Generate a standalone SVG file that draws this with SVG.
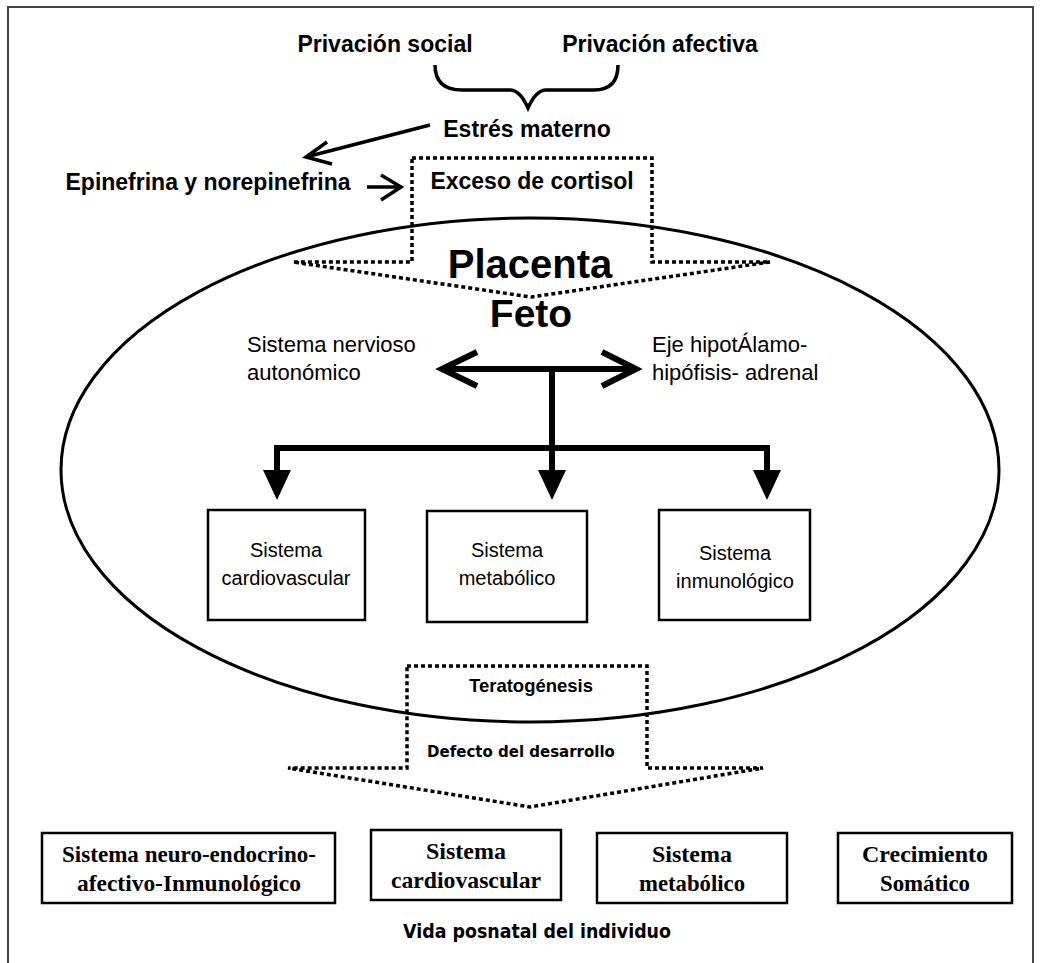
<svg xmlns="http://www.w3.org/2000/svg" width="1040" height="963" viewBox="0 0 1040 963">
<style>
.b{font-family:"Liberation Sans",Arial,sans-serif;font-weight:bold;fill:#000}
.r{font-family:"Liberation Sans",Arial,sans-serif;fill:#000}
.g{font-family:"DejaVu Sans","Liberation Sans",sans-serif;fill:#000}
.t{font-family:"Liberation Serif","Times New Roman",serif;font-weight:bold;fill:#000}
.box{fill:#fff;stroke:#000;stroke-width:2.5}
.dot{fill:none;stroke:#000;stroke-width:3.5;stroke-dasharray:4 3}
.thick{fill:none;stroke:#000;stroke-width:6;stroke-linejoin:miter}
.thin{fill:none;stroke:#000;stroke-width:3.5}
.tri{fill:#000}
</style>
<rect x="0" y="0" width="1040" height="963" fill="#fff"/>
<rect x="8" y="7" width="1025" height="1000" fill="none" stroke="#444" stroke-width="2"/>

<g id="ellipse-feto">
<ellipse cx="530" cy="470" rx="469" ry="252" fill="none" stroke="#000" stroke-width="3"/>
</g>

<g id="privacion-social"><text class="b" x="385" y="52" font-size="23" text-anchor="middle">Privación social</text></g>
<g id="privacion-afectiva"><text class="b" x="660" y="52" font-size="23" text-anchor="middle">Privación afectiva</text></g>
<g id="estres-materno"><text class="b" x="527" y="137" font-size="23" text-anchor="middle">Estrés materno</text></g>
<g id="epinefrina"><text class="b" x="208" y="190" font-size="23" text-anchor="middle">Epinefrina y norepinefrina</text></g>

<g id="exceso-cortisol">
<path class="dot" d="M412,158 L652,158 L652,262 L770,262 L531,297 L293,262 L412,262 Z"/>
<text class="b" x="532" y="189" font-size="23" text-anchor="middle">Exceso de cortisol</text>
</g>

<g id="placenta"><text class="b" x="530" y="278" font-size="40" text-anchor="middle">Placenta</text></g>
<g id="feto"><text class="b" x="531" y="327" font-size="39" text-anchor="middle">Feto</text></g>

<g id="sistema-nervioso">
<text class="r" x="247" y="352" font-size="22">Sistema nervioso</text>
<text class="r" x="247" y="380" font-size="22">autonómico</text>
</g>
<g id="eje-hpa">
<text class="r" x="652" y="352" font-size="22">Eje hipotÁlamo-</text>
<text class="r" x="652" y="380" font-size="22">hipófisis- adrenal</text>
</g>

<g id="fetal-cardio">
<rect class="box" x="208" y="510" width="157" height="110"/>
<text class="r" x="286" y="557" font-size="20" text-anchor="middle">Sistema</text>
<text class="r" x="286" y="585" font-size="20" text-anchor="middle">cardiovascular</text>
</g>
<g id="fetal-metab">
<rect class="box" x="427" y="511" width="160" height="111"/>
<text class="r" x="507" y="557" font-size="20" text-anchor="middle">Sistema</text>
<text class="r" x="507" y="585" font-size="20" text-anchor="middle">metabólico</text>
</g>
<g id="fetal-inmuno">
<rect class="box" x="659" y="510" width="151" height="110"/>
<text class="r" x="735" y="560" font-size="20" text-anchor="middle">Sistema</text>
<text class="r" x="735" y="588" font-size="20" text-anchor="middle">inmunológico</text>
</g>

<g id="teratogenesis">
<path class="dot" d="M407,666 L647,666 L647,768 L763,768 L530,807 L288,768 L407,768 Z"/>
<text class="b" x="531" y="692" font-size="18.5" text-anchor="middle">Teratogénesis</text>
<text class="g" x="521" y="757" font-size="15" font-weight="bold" text-anchor="middle">Defecto del desarrollo</text>
</g>

<g id="post-neuro">
<rect class="box" x="42" y="833" width="293" height="70"/>
<text class="t" x="189" y="862" font-size="24" text-anchor="middle" textLength="254" lengthAdjust="spacingAndGlyphs">Sistema neuro-endocrino-</text>
<text class="t" x="189" y="891" font-size="24" text-anchor="middle" textLength="224" lengthAdjust="spacingAndGlyphs">afectivo-Inmunológico</text>
</g>
<g id="post-cardio">
<rect class="box" x="371" y="830" width="190" height="70"/>
<text class="t" x="466" y="859" font-size="24" text-anchor="middle" textLength="80" lengthAdjust="spacingAndGlyphs">Sistema</text>
<text class="t" x="466" y="888" font-size="24" text-anchor="middle" textLength="150" lengthAdjust="spacingAndGlyphs">cardiovascular</text>
</g>
<g id="post-metab">
<rect class="box" x="597" y="833" width="190" height="70"/>
<text class="t" x="692" y="862" font-size="24" text-anchor="middle" textLength="80" lengthAdjust="spacingAndGlyphs">Sistema</text>
<text class="t" x="692" y="891" font-size="24" text-anchor="middle" textLength="106" lengthAdjust="spacingAndGlyphs">metabólico</text>
</g>
<g id="post-crecimiento">
<rect class="box" x="838" y="833" width="174" height="70"/>
<text class="t" x="925" y="862" font-size="24" text-anchor="middle" textLength="126" lengthAdjust="spacingAndGlyphs">Crecimiento</text>
<text class="t" x="925" y="891" font-size="24" text-anchor="middle" textLength="90" lengthAdjust="spacingAndGlyphs">Somático</text>
</g>

<g id="vida-posnatal"><text class="g" x="537" y="938" font-size="19" font-weight="bold" text-anchor="middle" textLength="268" lengthAdjust="spacingAndGlyphs">Vida posnatal del individuo</text></g>

<g id="connectors">
<path class="thin" d="M435,65 Q435,90 462,90 L510,90 Q520,90 528,108 Q536,90 546,90 L594,90 Q618,90 618,65"/>
<path class="thin" d="M430,125 L306,157 M327,142 L306,157 L332,164"/>
<path class="thin" stroke-width="4.5" d="M367,187 L401,187 M381,175 L401,187 L381,200"/>
<path class="thick" stroke-width="7" d="M442,369 L636,369 M477,352 L442,369 L477,386 M602,352 L636,369 L602,386"/>
<path class="thick" d="M552,369 L552,448 M277,448 L767,448 M277,445 L277,475 M552,448 L552,475 M767,445 L767,475"/>
<polygon class="tri" points="263,470 291,470 277,500"/>
<polygon class="tri" points="538,470 566,470 552,500"/>
<polygon class="tri" points="753,470 781,470 767,500"/>
</g>
</svg>
